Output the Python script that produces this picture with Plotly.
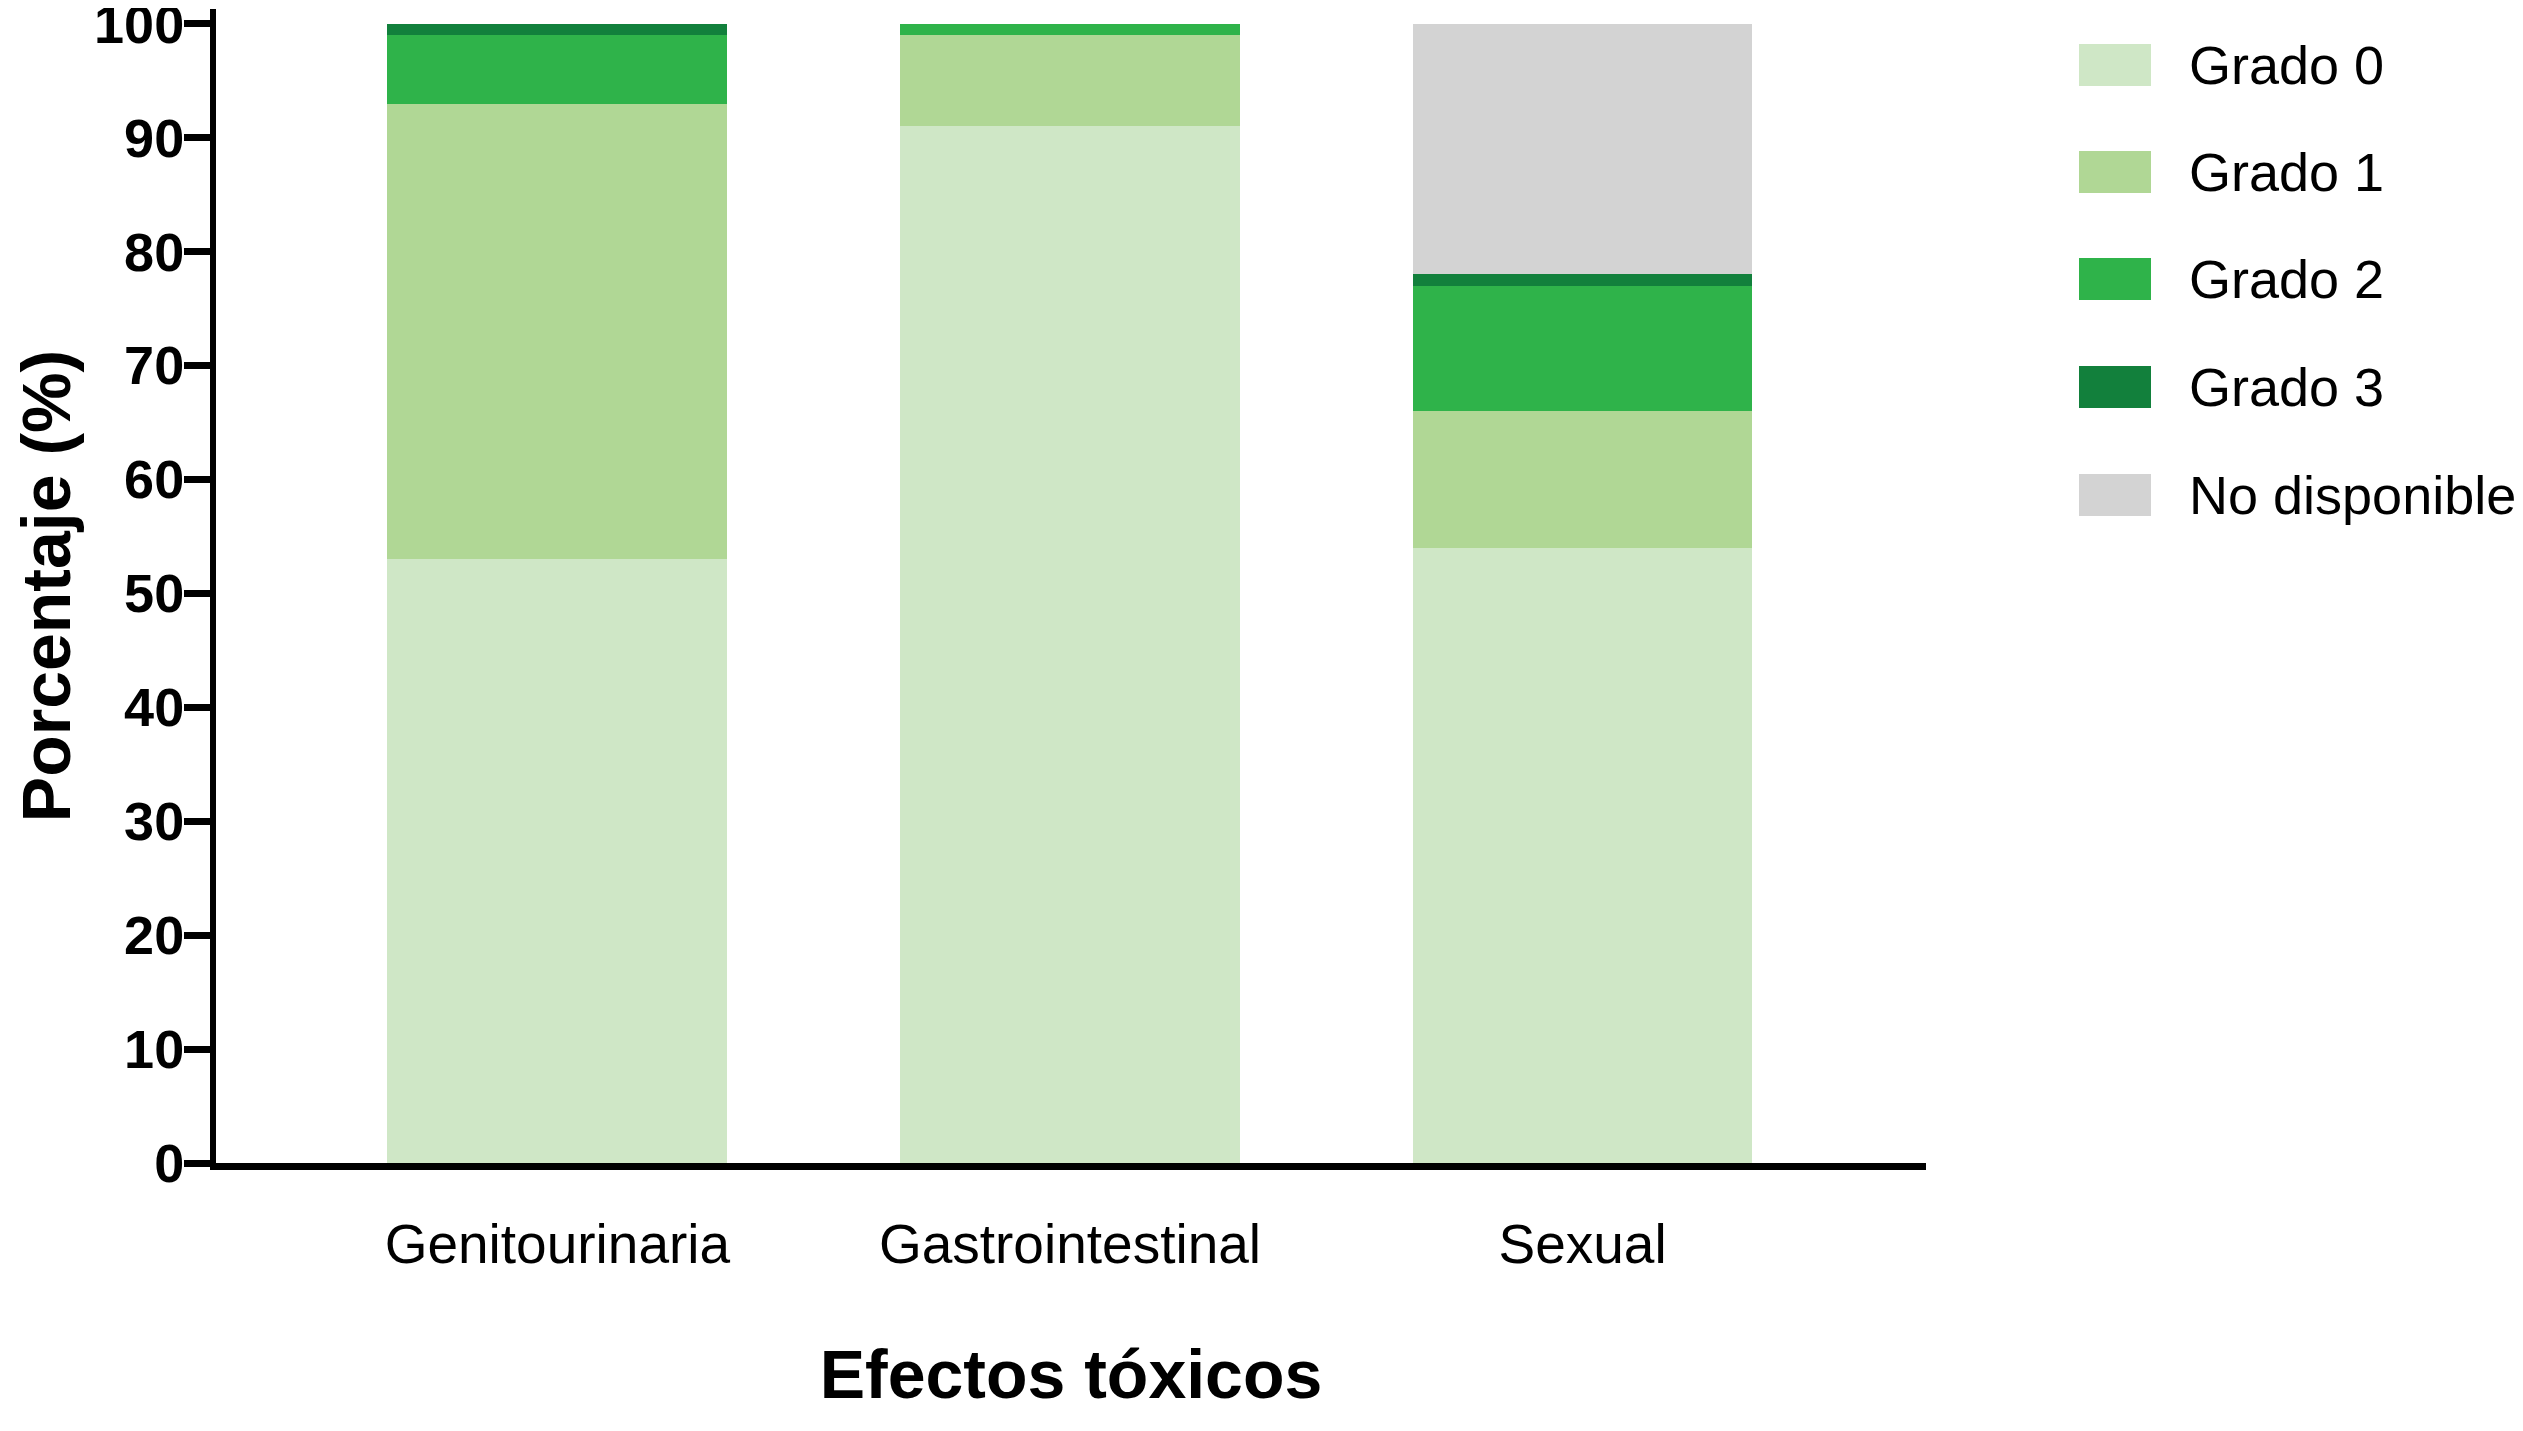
import plotly.graph_objects as go

categories = ["Genitourinaria", "Gastrointestinal", "Sexual"]
series_names = ["Grado 0", "Grado 1", "Grado 2", "Grado 3", "No disponible"]
grado0 = [53, 91, 54]
grado1 = [40, 8, 12]
grado2 = [6, 1, 11]
grado3 = [1, 0, 1]
no_disponible = [0, 0, 22]
colors = ["#cfe7c6", "#b0d795", "#2fb34a", "#12803c", "#d3d3d3"]
y_ticks = [0, 10, 20, 30, 40, 50, 60, 70, 80, 90, 100]

series_values = [grado0, grado1, grado2, grado3, no_disponible]

OFF_X, OFF_Y = 5, 7  # observed page offset
W, H = 2523, 1431
# target screen pixel positions of the plot area
SX0, SX1, SY0, SY1 = 213, 1923, 8, 1162
L = SX0 - OFF_X
R = W - (SX1 - OFF_X)
T = SY0 - OFF_Y
B = H - (SY1 - OFF_Y)

fig = go.Figure()
for name, vals, col in zip(series_names, series_values, colors):
    fig.add_trace(go.Bar(
        x=categories, y=vals, name=name,
        marker=dict(color=col, line=dict(width=0)),
        width=0.663, showlegend=False,
    ))

# manual legend (large swatches), positions given in screen pixels
def px_to_paper(px, py):
    return (px - SX0) / (SX1 - SX0), (SY1 - py) / (SY1 - SY0)

row_y = [64, 171, 278, 386, 494]
for name, col, yc in zip(series_names, colors, row_y):
    x0, y0 = px_to_paper(2076, yc + 21)
    x1, y1 = px_to_paper(2148, yc - 21)
    fig.add_shape(type="rect", xref="paper", yref="paper",
                  x0=x0, y0=y0, x1=x1, y1=y1,
                  fillcolor=col, line=dict(width=0))
    tx, ty = px_to_paper(2184, yc)
    fig.add_annotation(xref="paper", yref="paper", x=tx, y=ty,
                       text=name, showarrow=False, xanchor="left", yanchor="middle",
                       font=dict(family="Liberation Sans, Arial, sans-serif", size=54, color="black"))

fig.update_layout(
    width=W, height=H, autosize=False,
    margin=dict(l=L, r=R, t=T, b=B, pad=0),
    barmode="stack", bargap=0,
    plot_bgcolor="white", paper_bgcolor="white",
    font=dict(family="Liberation Sans, Arial, sans-serif", color="black"),
)
fig.update_xaxes(
    type="category", range=[-0.666, 2.67], automargin=False,
    showline=True, linewidth=7, linecolor="black",
    ticks="", showgrid=False, zeroline=False,
    tickfont=dict(family="Liberation Sans, Arial, sans-serif", size=55, color="black"),
    ticklabelstandoff=27,
    title=dict(text="Efectos tóxicos", standoff=79,
               font=dict(family="Liberation Sans, Arial, sans-serif", size=68, weight="bold", color="black")),
)
fig.update_yaxes(
    range=[0, 101.3], tickvals=y_ticks, automargin=False,
    showline=True, linewidth=6, linecolor="black",
    ticks="outside", ticklen=26, tickwidth=7, tickcolor="black",
    showgrid=False, zeroline=False,
    ticklabeloverflow="allow",
    tickfont=dict(family="Liberation Sans, Arial, sans-serif",
                  size=54, weight="bold", color="black"),
    ticklabelstandoff=-11,
    title=dict(text="Porcentaje (%)", standoff=55,
               font=dict(family="Liberation Sans, Arial, sans-serif", size=68, weight="bold", color="black")),
)

fig.write_html("out.html")
